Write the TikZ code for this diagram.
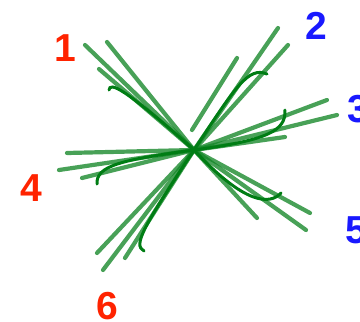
\documentclass[tikz,border=0pt]{standalone}
\usepackage{fontspec}
\setmainfont{Liberation Sans}
\definecolor{branch}{RGB}{20,135,40}
\definecolor{hookc}{RGB}{0,125,20}
\definecolor{lblred}{RGB}{255,35,0}
\definecolor{lblblue}{RGB}{25,25,255}
\tikzset{
  br/.style={draw=branch, line width=4.2pt, draw opacity=0.78, line cap=round},
  hk/.style={draw=hookc, line width=3pt, line cap=round},
  lbl/.style={font=\fontsize{39}{39}\selectfont\bfseries, inner sep=0pt},
}
\begin{document}
\begin{tikzpicture}[x=1pt,y=-1pt]
\useasboundingbox (0,0) rectangle (360,322);
\coordinate (c) at (194,150);
\coordinate (c2) at (192,130);
% group 1
\coordinate (a1) at (85,45);
\coordinate (a2) at (107,42);
\coordinate (a3) at (99,69);
% group 2
\coordinate (b1) at (278,28);
\coordinate (b2) at (288,45);
\coordinate (b3) at (237,58);
% group 3
\coordinate (d1) at (327,100);
\coordinate (d2) at (337,115);
\coordinate (d3) at (285,137);
% group 4
\coordinate (e1) at (67,153);
\coordinate (e2) at (59,170);
\coordinate (e3) at (82,178);
% group 5
\coordinate (f1) at (310,213);
\coordinate (f2) at (306,230);
\coordinate (f3) at (257,218);
% group 6
\coordinate (g1) at (97,253);
\coordinate (g2) at (103,270);
\coordinate (g3) at (125,258);
% branches
\foreach \p in {a1,a2,a3,b1,b2,d1,d2,d3,e1,e2,e3,f1,f2,f3,g1,g2,g3}
  \draw[br] (c) -- (\p);
\draw[br] (c2) -- (b3);
% hooks
\draw[hk] (c) .. controls (122,86) and (110,82) .. (109,90);
\draw[hk] (c) .. controls (235,88) and (248,66) .. (267,74);
\draw[hk] (c) .. controls (270,140) and (286,130) .. (285,110);
\draw[hk] (c) .. controls (120,160) and (96,166) .. (97,184);
\draw[hk] (c) .. controls (245,205) and (270,205) .. (281,193);
\draw[hk] (c) .. controls (145,225) and (132,245) .. (144,251);
% labels
\node[lbl, text=lblred]  (l1) at (65,48)  {1};
\node[lbl, text=lblblue] (l2) at (316,26) {2};
\node[lbl, text=lblblue] (l3) at (358,109) {3};
\node[lbl, text=lblred]  (l4) at (31,188) {4};
\node[lbl, text=lblblue] (l5) at (356,230) {5};
\node[lbl, text=lblred]  (l6) at (107,306) {6};
\end{tikzpicture}
\end{document}
